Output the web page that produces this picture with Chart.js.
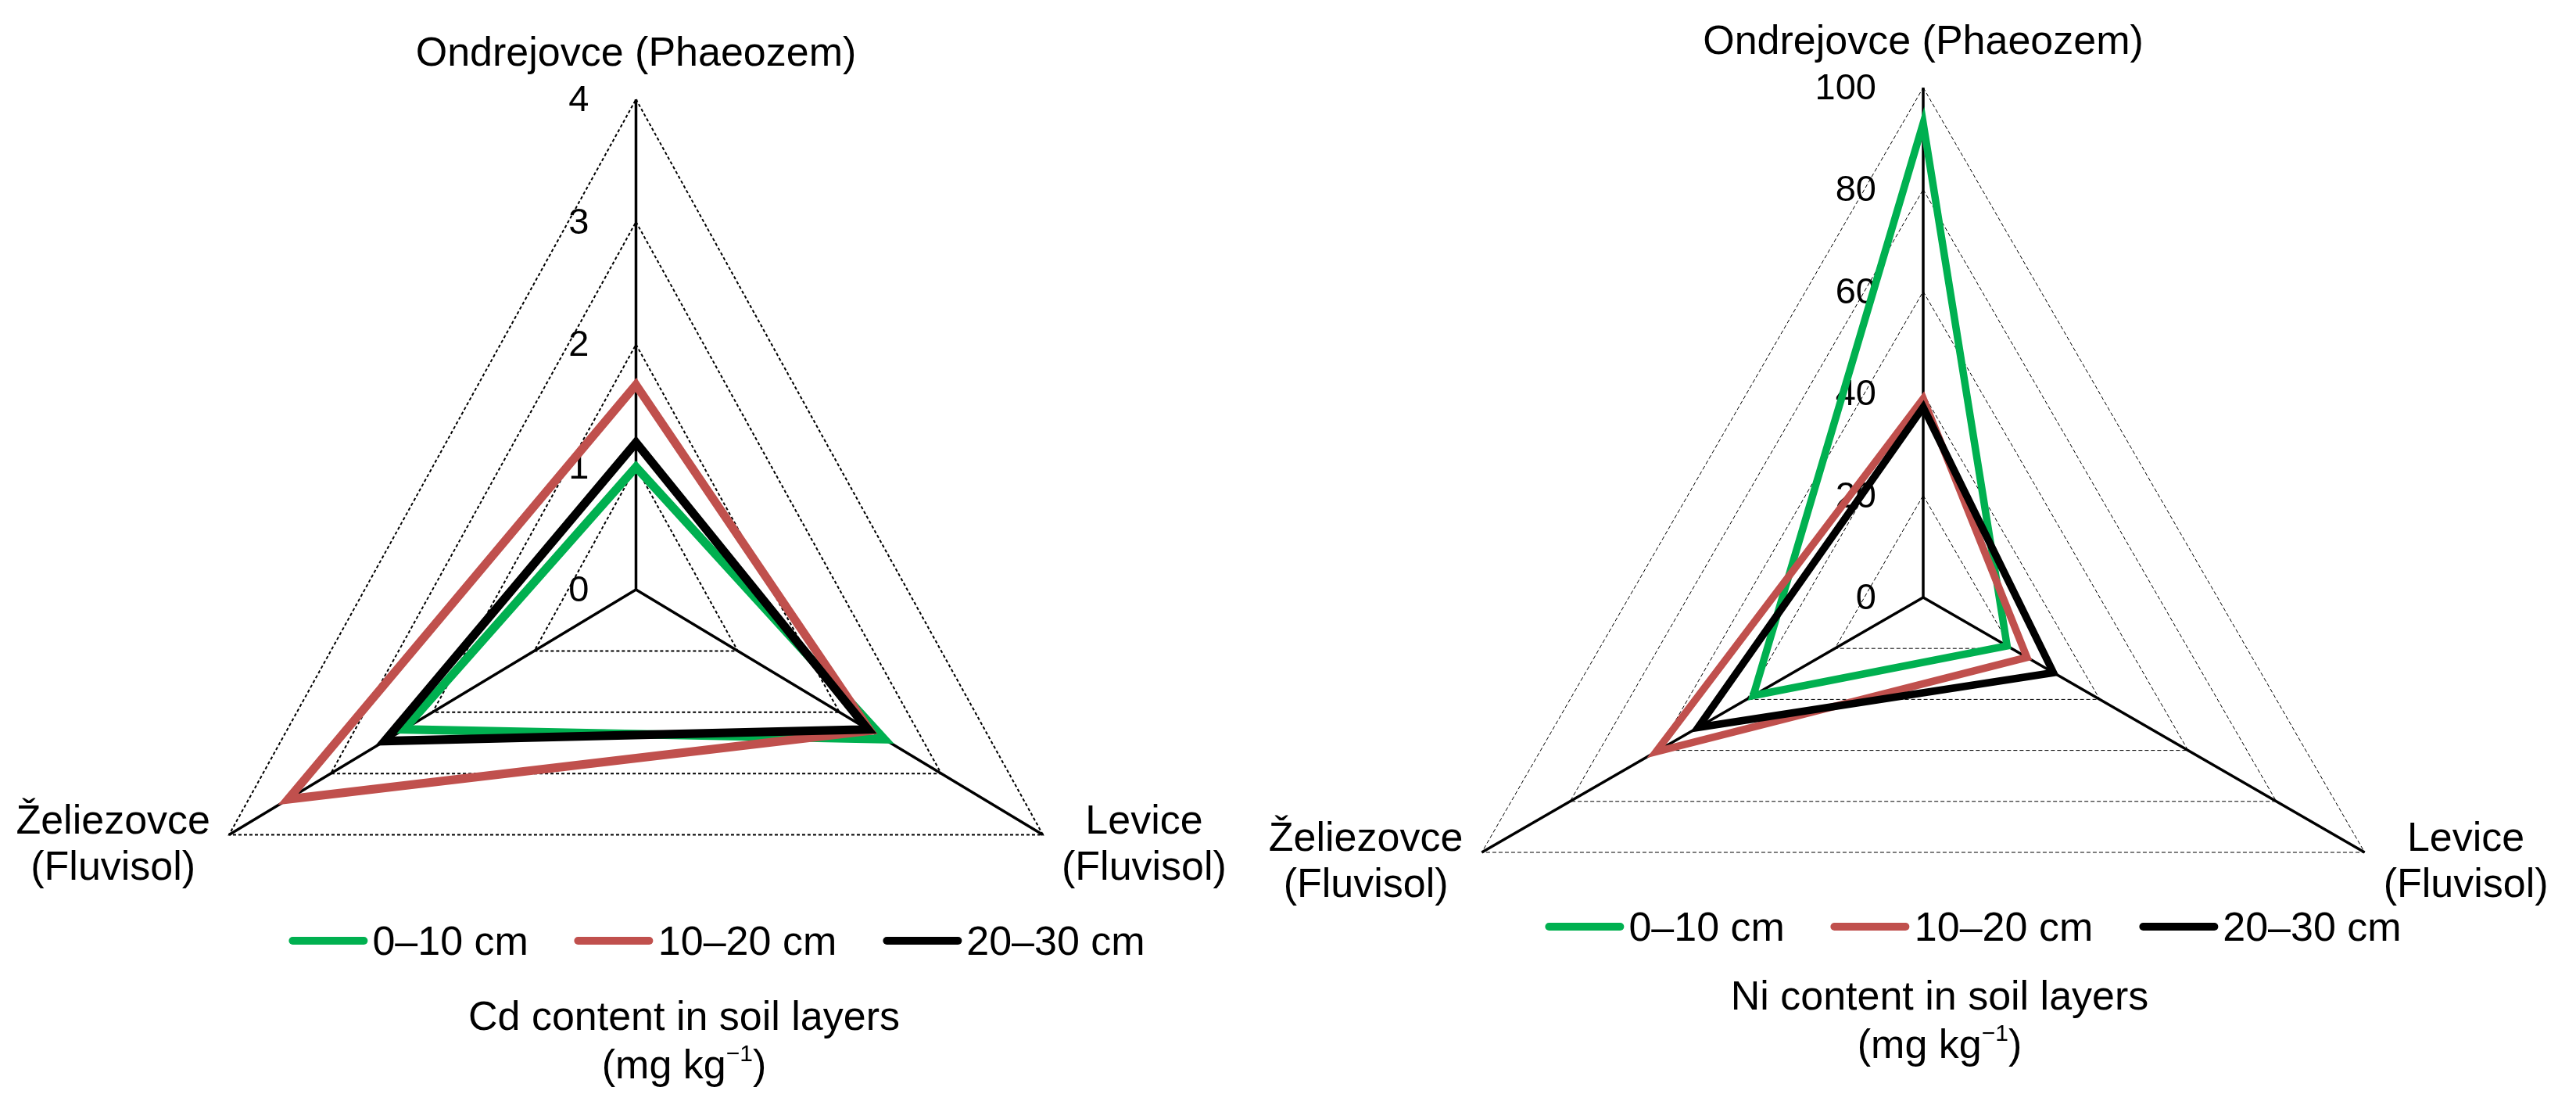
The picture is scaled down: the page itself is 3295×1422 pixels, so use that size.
<!DOCTYPE html>
<html>
<head>
<meta charset="utf-8">
<script src="https://cdn.jsdelivr.net/npm/chart.js@4.4.1/dist/chart.umd.min.js"></script>
<style>
  html, body { margin: 0; padding: 0; background: #fff; }
  body { width: 3295px; height: 1422px; position: relative; overflow: hidden;
         font-family: 'Liberation Sans', Arial, sans-serif; color: #000; }
  canvas { position: absolute; top: 0; }
  .legend { position: absolute; display: flex; align-items: center; font-size: 52px;
            white-space: nowrap; transform: translate(-50%, -50%); }
  .legend .item { display: flex; align-items: center; margin-right: 59px; }
  .legend .item:last-child { margin-right: 0; }
  .legend .swatch { width: 101px; height: 10px; border-radius: 5px; margin-right: 6px; }
  .title { position: absolute; font-size: 52px; line-height: 62px; text-align: center;
           transform: translateX(-50%); white-space: nowrap; }
  .title sup { font-size: 30px; vertical-align: 22px; line-height: 0; }
</style>
</head>
<body>
<canvas id="cd" width="1600" height="1422" style="left:0"></canvas>
<canvas id="ni" width="1715" height="1422" style="left:1580px"></canvas>
<div class="legend" id="cdLegend" style="left:917px; top:1203px"></div>
<div class="legend" id="niLegend" style="left:2524px; top:1185px"></div>
<div class="title" style="left:875px; top:1268px">Cd content in soil layers<br>(mg kg<sup>&minus;1</sup>)</div>
<div class="title" style="left:2481px; top:1242px">Ni content in soil layers<br>(mg kg<sup>&minus;1</sup>)</div>
<script>
// sites, clockwise from the top
const sites = [['Ondrejovce (Phaeozem)'], ['Levice', '(Fluvisol)'], ['Želiezovce', '(Fluvisol)']]
const layers = ['0–10 cm', '10–20 cm', '20–30 cm']
const layerColors = ['#00B050', '#C0504D', '#000000']

// Cd, mg/kg
const cd0_10 = [1.0, 2.44, 2.28]
const cd10_20 = [1.67, 2.3, 3.42]
const cd20_30 = [1.2, 2.28, 2.47]
const cdTicks = ['0', '1', '2', '3', '4']

// Ni, mg/kg
const ni0_10 = [93, 19, 38.5]
const ni10_20 = [39, 23.5, 60.5]
const ni20_30 = [37.3, 29.5, 51]
const niTicks = ['0', '20', '40', '60', '80', '100']

const FONT = '"Liberation Sans", Arial, sans-serif'

// lets the Cd triangle be a little narrower than equilateral, like the original
const Radial = Chart.registry.getScale('radialLinear')
const basePointPosition = Radial.prototype.getPointPosition
Radial.prototype.getPointPosition = function (index, distance, extra = 0) {
  const p = basePointPosition.call(this, index, distance, extra)
  const k = (this.options && this.options.xStretch) || 1
  return { x: this.xCenter + (p.x - this.xCenter) * k, y: p.y, angle: p.angle }
}

const radarText = {
  id: 'radarText',
  beforeDatasetsDraw(chart, args, opts) {
    const s = chart.scales.r
    const ctx = chart.ctx
    ctx.save()
    ctx.font = '47px ' + FONT
    ctx.fillStyle = '#000'
    ctx.textAlign = 'right'
    ctx.textBaseline = 'middle'
    opts.ticks.forEach((t) => {
      const p = s.getPointPositionForValue(0, Number(t))
      ctx.fillText(t, p.x - 60, p.y + 2)
    })
    ctx.restore()
  },
  afterDraw(chart) {
    const s = chart.scales.r
    const ctx = chart.ctx
    ctx.save()
    ctx.font = '52px ' + FONT
    ctx.fillStyle = '#000'
    ctx.textAlign = 'center'
    ctx.textBaseline = 'middle'
    chart.data.labels.forEach((lines, i) => {
      const v = s.getPointPosition(i, s.drawingArea)
      if (i === 0) {
        ctx.fillText(lines[0], v.x, v.y - 57)
        return
      }
      const w = Math.max(...lines.map((l) => ctx.measureText(l).width))
      const cx = i === 1 ? v.x + 24 + w / 2 : v.x - 24 - w / 2
      lines.forEach((l, j) => ctx.fillText(l, cx, v.y - 16 + j * 59))
    })
    ctx.restore()
  }
}

function makeRadar(id, series, ticks, opts) {
  const datasets = series.map((data, i) => ({
    label: layers[i],
    data: data,
    borderColor: layerColors[i],
    backgroundColor: 'transparent',
    borderWidth: opts.lineWidth,
    fill: false,
    pointRadius: 0,
    tension: 0,
    borderJoinStyle: 'miter',
    order: series.length - i
  }))

  return new Chart(document.getElementById(id), {
    type: 'radar',
    data: { labels: sites, datasets: datasets },
    plugins: [radarText],
    options: {
      responsive: false,
      animation: false,
      layout: { padding: 0 },
      plugins: {
        legend: { display: false },
        tooltip: { enabled: false },
        radarText: { ticks: ticks }
      },
      scales: {
        r: {
          min: 0,
          max: Number(ticks[ticks.length - 1]),
          xStretch: opts.stretch,
          ticks: { display: false, stepSize: Number(ticks[1]) },
          pointLabels: { display: false },
          grid: { color: '#000', lineWidth: opts.gridWidth },
          border: { dash: opts.dash },
          angleLines: { color: '#000', lineWidth: 3.5 },
          afterFit: (s) => {
            s.xCenter = opts.center[0]
            s.yCenter = opts.center[1]
            s.drawingArea = opts.radius
          }
        }
      }
    }
  })
}

function makeLegend(id) {
  const el = document.getElementById(id)
  layers.forEach((name, i) => {
    const item = document.createElement('div')
    item.className = 'item'
    const sw = document.createElement('span')
    sw.className = 'swatch'
    sw.style.background = layerColors[i]
    const txt = document.createElement('span')
    txt.textContent = name
    item.appendChild(sw)
    item.appendChild(txt)
    el.appendChild(item)
  })
}

// centers are page coordinates minus the canvas left edge
makeRadar('cd', [cd0_10, cd10_20, cd20_30], cdTicks,
  { center: [813.5, 754], radius: 627, stretch: 0.9586, lineWidth: 11, gridWidth: 2, dash: [4, 3] })
makeRadar('ni', [ni0_10, ni10_20, ni20_30], niTicks,
  { center: [2460 - 1580, 764], radius: 652, stretch: 1, lineWidth: 9.5, gridWidth: 1, dash: [5, 3] })

makeLegend('cdLegend')
makeLegend('niLegend')
</script>
</body>
</html>
